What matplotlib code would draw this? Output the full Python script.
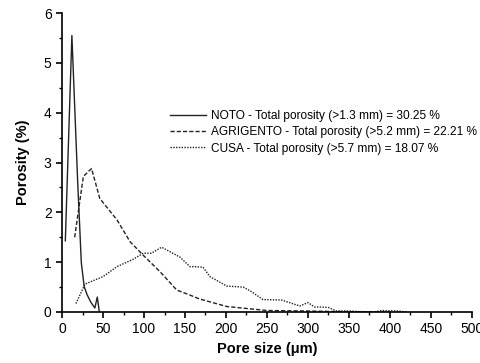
import matplotlib
matplotlib.use("Agg")
import matplotlib.pyplot as plt
from matplotlib.ticker import MultipleLocator

plt.rcParams['font.family'] = ['Liberation Sans', 'DejaVu Sans']

noto_x = [4, 12, 19, 23.5, 27, 30.5, 35, 40, 43, 45.5]
noto_y = [1.43, 5.55, 2.64, 0.99, 0.51, 0.35, 0.2, 0.08, 0.3, 0.0]

agri_x = [15.4, 26, 36, 46, 67, 83, 99, 119.5, 140, 156, 168, 201, 250, 300, 330, 400]
agri_y = [1.5, 2.72, 2.88, 2.28, 1.85, 1.41, 1.14, 0.81, 0.44, 0.34, 0.26, 0.11, 0.03, 0.02, 0.01, 0.0]

cusa_x = [17, 28, 50, 67, 87, 99, 109, 121.5, 144, 156, 162, 172, 180.5, 201, 221, 231, 245, 268,
          290, 300, 308, 316.5, 325, 335, 350, 360, 380, 390, 410, 420]
cusa_y = [0.17, 0.56, 0.71, 0.91, 1.06, 1.18, 1.18, 1.30, 1.10, 0.91, 0.91, 0.9, 0.71, 0.52, 0.5, 0.41,
          0.25, 0.24, 0.12, 0.19, 0.1, 0.1, 0.09, 0.02, 0.02, 0.01, 0.0, 0.03, 0.02, 0.0]

labels = ["NOTO - Total porosity (>1.3 mm) = 30.25 %",
          "AGRIGENTO - Total porosity (>5.2 mm) = 22.21 %",
          "CUSA - Total porosity (>5.7 mm) = 18.07 %"]

fig = plt.figure(figsize=(4.81, 3.63), dpi=100)
ax = fig.add_axes([0.129, 0.1405, 0.852, 0.8235])
col = '#222222'
ax.plot(noto_x, noto_y, '-', color=col, lw=1.0, label=labels[0])
ax.plot(agri_x, agri_y, '--', color=col, lw=1.0, dashes=(3, 1.5), label=labels[1])
ax.plot(cusa_x, cusa_y, ':', color=col, lw=1.0, dashes=(1, 1), label=labels[2])

ax.set_xlim(0, 500)
ax.set_ylim(0, 6)
ax.xaxis.set_major_locator(MultipleLocator(50))
ax.xaxis.set_minor_locator(MultipleLocator(25))
ax.yaxis.set_major_locator(MultipleLocator(1))
ax.yaxis.set_minor_locator(MultipleLocator(0.5))
for s in ['top', 'right']:
    ax.spines[s].set_visible(False)
for s in ['left', 'bottom']:
    ax.spines[s].set_linewidth(1.2)
ax.tick_params(which='major', direction='out', length=4, width=1.2, labelsize=10)
ax.tick_params(which='minor', direction='out', length=2.5, width=1.0)
ax.set_xlabel('Pore size (μm)', fontsize=10.5, fontweight='bold', labelpad=4)
ax.set_ylabel('Porosity (%)', fontsize=10.5, fontweight='bold', labelpad=10)

ax.legend(loc='upper left', bbox_to_anchor=(0.25, 0.695), frameon=False, fontsize=8.6,
          handlelength=3.0, handletextpad=0.4, labelspacing=0.35, borderpad=0)

fig.savefig('out.png', dpi=100)
